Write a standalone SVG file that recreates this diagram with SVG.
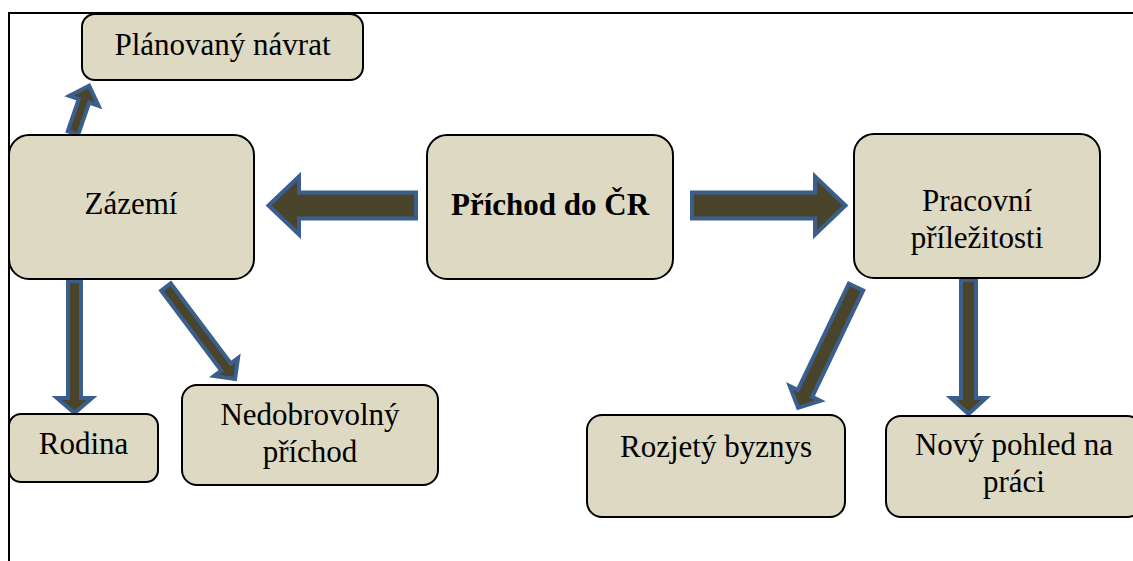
<svg xmlns="http://www.w3.org/2000/svg" width="1133" height="561" viewBox="0 0 1133 561">
  <style>
    .box { fill: #ddd9c3; stroke: #000; stroke-width: 2; }
    .lbl { font-family: 'Liberation Serif', 'Times New Roman', serif; font-size: 31px; fill: #000; text-anchor: middle; }
    .bold { font-weight: bold; }
    .arrow { fill: #4a452a; stroke: #3a5f8f; stroke-width: 4; stroke-linejoin: miter; }
    .frame { fill: none; stroke: #000; stroke-width: 2; }
  </style>

  <!-- page frame -->
  <path class="frame" d="M9,561 V13 H1133"/>

  <!-- block arrows: local shape points along +x, placed by translate/rotate -->
  <g id="connectors">
    <!-- Příchod -> Zázemí -->
    <path class="arrow" d="M416,192.5 H299 V176.5 L268.5,205.5 L299,234.5 V218.5 H416 Z"/>
    <!-- Příchod -> Pracovní příležitosti -->
    <path class="arrow" d="M692,192.5 H815 V176.5 L845.5,205.5 L815,234.5 V218.5 H692 Z"/>
    <!-- Zázemí -> Rodina -->
    <g transform="translate(74.5,281) rotate(90)">
      <path class="arrow" d="M0,-6.5 H117 V-17.5 L132,0 L117,17.5 V6.5 H0 Z"/>
    </g>
    <!-- Zázemí -> Nedobrovolný příchod -->
    <g transform="translate(166,287) rotate(53.1)">
      <path class="arrow" d="M0,-6 H100 V-15 L115,0 L100,15 V6 H0 Z"/>
    </g>
    <!-- Zázemí -> Plánovaný návrat -->
    <g transform="translate(73,133) rotate(-71.2)">
      <path class="arrow" d="M0,-5.5 H34 V-15.5 L50,0 L34,15.5 V5.5 H0 Z"/>
    </g>
    <!-- Pracovní příležitosti -> Nový pohled na práci -->
    <g transform="translate(968.5,280) rotate(90)">
      <path class="arrow" d="M0,-7.5 H118 V-17.5 L134,0 L118,17.5 V7.5 H0 Z"/>
    </g>
    <!-- Pracovní příležitosti -> Rozjetý byznys -->
    <g transform="translate(856,287) rotate(115.6)">
      <path class="arrow" d="M0,-8 H118 V-17 L134,0 L118,17 V8 H0 Z"/>
    </g>
  </g>

  <g id="nodes">
    <g id="node-planovany">
      <rect class="box" x="82" y="14" width="281" height="66" rx="13"/>
      <text class="lbl" x="222.5" y="55">Plánovaný návrat</text>
    </g>

    <g id="node-zazemi">
      <rect class="box" x="9" y="135" width="245" height="144" rx="20"/>
      <text class="lbl" x="131" y="214">Zázemí</text>
    </g>

    <g id="node-prichod">
      <rect class="box" x="427" y="135" width="246" height="144" rx="20"/>
      <text class="lbl bold" x="550" y="215">Příchod do ČR</text>
    </g>

    <g id="node-pracovni">
      <rect class="box" x="854" y="134" width="246" height="144" rx="20"/>
      <text class="lbl" x="977" y="211">Pracovní</text>
      <text class="lbl" x="977" y="248">příležitosti</text>
    </g>

    <g id="node-rodina">
      <rect class="box" x="9" y="414" width="149" height="68" rx="12"/>
      <text class="lbl" x="83.5" y="454">Rodina</text>
    </g>

    <g id="node-nedobrovolny">
      <rect class="box" x="182" y="385" width="256" height="100" rx="15"/>
      <text class="lbl" x="310" y="425">Nedobrovolný</text>
      <text class="lbl" x="310" y="462">příchod</text>
    </g>

    <g id="node-rozjety">
      <rect class="box" x="587" y="415" width="258" height="102" rx="15"/>
      <text class="lbl" x="716" y="457">Rozjetý byznys</text>
    </g>

    <g id="node-novy">
      <rect class="box" x="886" y="416" width="256" height="101" rx="15"/>
      <text class="lbl" x="1014" y="455">Nový pohled na</text>
      <text class="lbl" x="1014" y="492">práci</text>
    </g>
  </g>
</svg>
